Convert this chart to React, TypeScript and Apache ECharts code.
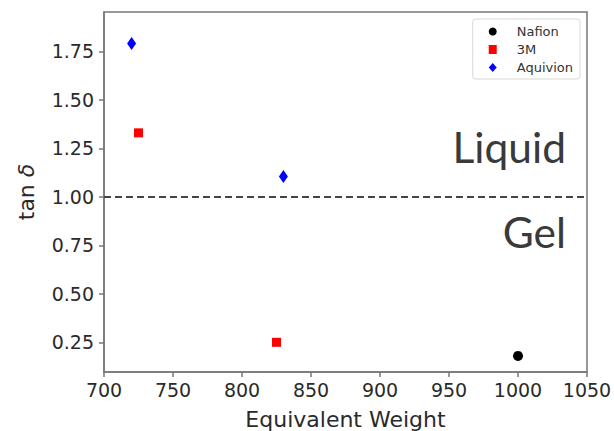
import React, { useEffect, useRef } from "react";
import * as echarts from "echarts";

const seriesNames = ["Nafion", "3M", "Aquivion"];
const nafionData: [number, number][] = [[1000, 0.18]];
const threeMData: [number, number][] = [[725, 1.33], [825, 0.25]];
const aquivionData: [number, number][] = [[720, 1.79], [830, 1.105]];
const yTicks = [0.25, 0.5, 0.75, 1.0, 1.25, 1.5, 1.75];
const boundaryValue = 1.0;
const regionLabels = ["Liquid", "Gel"];

export default function App() {
  const ref = useRef<HTMLDivElement>(null);
  useEffect(() => {
    if (!ref.current) return;
    const chart = echarts.init(ref.current, null, { renderer: "svg" });
    const tickFont = { fontFamily: "DejaVu Sans", fontSize: 19, color: "#2a2a2a" };
    const titleFont = { fontFamily: "DejaVu Sans", fontSize: 22, color: "#2a2a2a" };
    chart.setOption({
      animation: false,
      backgroundColor: "#ffffff",
      grid: {
        left: 104,
        right: 27,
        top: 12,
        bottom: 59,
        outerBoundsMode: "none",
        containLabel: false,
        show: true,
        borderColor: "#777",
        borderWidth: 1.5,
        backgroundColor: "transparent",
      },
      legend: {
        orient: "vertical",
        right: 34,
        top: 19,
        padding: [6, 7, 5, 16],
        itemGap: 5,
        itemWidth: 8,
        itemHeight: 9,
        borderColor: "#d8d8d8",
        borderWidth: 1,
        borderRadius: 3,
        textStyle: { fontFamily: "DejaVu Sans", fontSize: 13, color: "#333", padding: [0, 0, 0, 15] },
        data: [
          { name: seriesNames[0], icon: "circle" },
          { name: seriesNames[1], icon: "rect" },
          { name: seriesNames[2], icon: "diamond" },
        ],
      },
      xAxis: {
        type: "value",
        min: 700,
        max: 1050,
        interval: 50,
        name: "Equivalent Weight",
        nameLocation: "middle",
        nameGap: 36,
        nameTextStyle: titleFont,
        splitLine: { show: false },
        axisLine: { show: true, onZero: false, lineStyle: { color: "#777", width: 1.5 } },
        axisTick: { show: true, length: 5, lineStyle: { color: "#777", width: 1.5 } },
        axisLabel: { ...tickFont, margin: 8, formatter: (v: number) => String(v) },
      },
      yAxis: {
        type: "value",
        min: 0.097,
        max: 1.953,
        name: "tan {i|δ}",
        nameLocation: "middle",
        nameGap: 67,
        nameRotate: 90,
        nameTextStyle: {
          ...titleFont,
          rich: { i: { ...titleFont, fontStyle: "italic" } },
        },
        splitLine: { show: false },
        axisLine: { show: true, onZero: false, lineStyle: { color: "#777", width: 1.5 } },
        axisTick: { show: true, length: 5, customValues: yTicks, lineStyle: { color: "#777", width: 1.5 } },
        axisLabel: {
          ...tickFont,
          margin: 10,
          customValues: yTicks,
          formatter: (v: number) => v.toFixed(2),
        },
      },
      series: [
        {
          name: seriesNames[0],
          type: "scatter",
          data: nafionData,
          symbol: "circle",
          symbolSize: 10,
          itemStyle: { color: "#000000", opacity: 1 },
          markLine: {
            silent: true,
            symbol: "none",
            label: { show: false },
            lineStyle: { color: "#444", type: [7, 4], width: 2 },
            data: [{ yAxis: boundaryValue }],
          },
        },
        {
          name: seriesNames[1],
          type: "scatter",
          data: threeMData,
          symbol: "rect",
          symbolSize: 9,
          itemStyle: { color: "#ff0000", opacity: 1 },
        },
        {
          name: seriesNames[2],
          type: "scatter",
          data: aquivionData,
          symbol: "diamond",
          symbolSize: [9, 13],
          itemStyle: { color: "#0000ff", opacity: 1 },
        },
      ],
      graphic: [
        {
          type: "text",
          right: 48,
          top: 125,
          style: { text: regionLabels[0], fontFamily: "Lato", fontSize: 42.5, fill: "#3a3a3a" },
        },
        {
          type: "text",
          right: 48,
          top: 210,
          style: { text: regionLabels[1], fontFamily: "Lato", fontSize: 42.5, fill: "#3a3a3a" },
        },
      ],
    });
    return () => chart.dispose();
  }, []);
  return <div ref={ref} style={{ width: 614, height: 431, position: "absolute", left: 0, top: 0 }} />;
}
